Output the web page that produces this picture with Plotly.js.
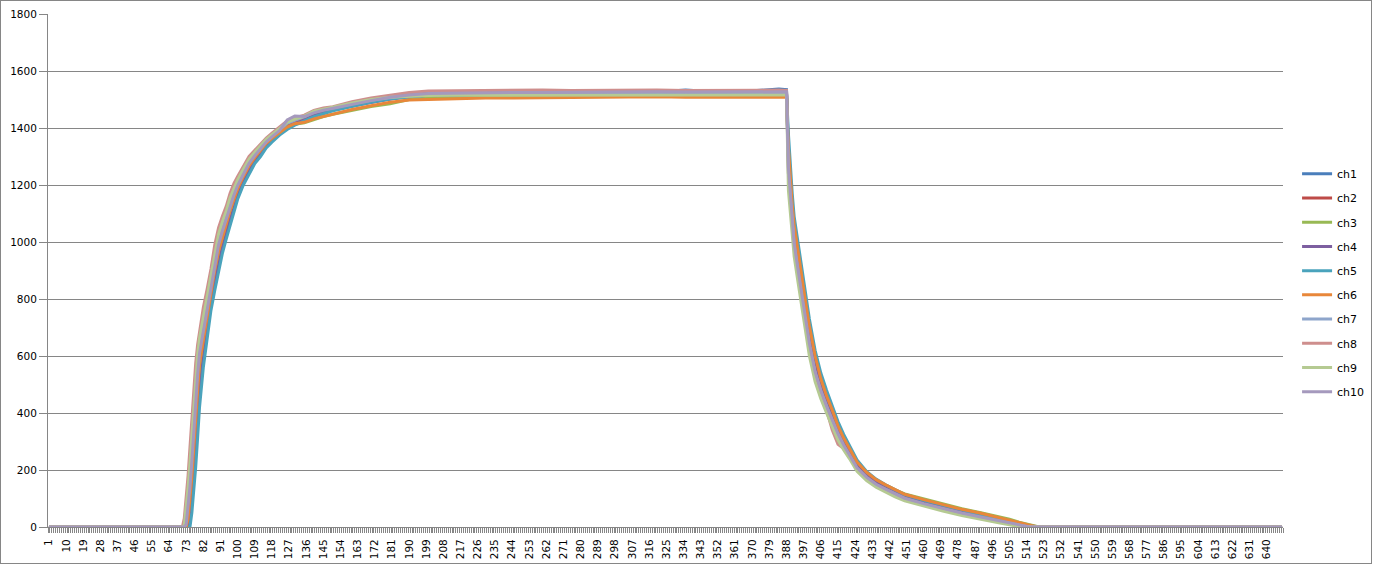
<!DOCTYPE html>
<html><head><meta charset="utf-8">
<script src="https://cdn.plot.ly/plotly-3.0.1.min.js"></script>
<style>
html,body{margin:0;padding:0;background:#fff;}
#wrap{position:relative;width:1373px;height:565px;}
#chart{width:1373px;height:565px;}
#frame{position:absolute;left:0;top:0;width:1372px;height:564px;border:1px solid #868686;box-sizing:border-box;pointer-events:none;}
</style>
</head><body>
<div id="wrap"><div id="chart"></div><div id="frame"></div></div>
<script>
// sample categories (x) shared by all series
const categoryX = [1,70,71,72,73,74,75,76,77,78,79,80,82,84,86,88,90,92,94,96,98,100,103,106,109,112,115,118,122,126,130,135,140,145,150,160,170,180,190,200,215,230,245,260,275,290,305,320,335,350,365,378,384,388,389,390,391,392,394,396,398,400,403,406,409,412,415,418,421,425,430,435,440,445,450,460,470,480,490,500,505,510,515,520,648];

const ch1 = [0,0,0, 0,0,0,46,118,203,305,413,509, 612,704,796,870,938,993,1039,1088,1126,1170, 1216,1255,1287,1311,1339,1358,1382,1402,1416,1430,1445,1455,1464, 1478,1492,1503,1512,1518, 1520,1522,1522,1523,1524,1524,1525,1526,1533,1527,1528,1535,1537,1535, 1320,1210,1110,1045,955,865,775,695,590,512,455,400,348,305,270,222,185,158,140,122,106,86,68,52,38,25,18,10,3,0,0];
const ch2 = [0,0,0, 0,0,53,127,214,317,424,518,597, 675,756,840,918,983,1032,1073,1121,1158,1194, 1236,1273,1301,1325,1349,1368,1390,1411,1424,1436,1452,1461,1468, 1484,1498,1510,1520,1525, 1527,1528,1529,1530,1530,1530,1531,1530,1531,1531,1530,1531,1531,1531, 1280,1180,1080,1010,920,830,740,660,560,490,435,385,335,295,262,215,182,158,141,123,108,89,71,55,41,27,20,12,4,0,0];
const ch3 = [0,0,0, 0,0,13,72,148,240,345,450,541, 633,721,811,886,953,1006,1050,1099,1137,1178, 1223,1261,1291,1316,1342,1361,1384,1402,1413,1418,1430,1440,1448, 1462,1475,1485,1500,1505, 1508,1510,1512,1513,1514,1514,1515,1515,1515,1516,1515,1516,1516,1516, 1300,1200,1105,1040,950,860,770,690,585,508,450,398,345,303,270,222,188,163,147,130,116,98,81,64,50,35,27,17,8,1,0];
const ch4 = [0,0,0, 0,0,0,24,90,168,266,374,476, 591,686,782,854,923,980,1027,1077,1116,1162, 1210,1249,1282,1307,1335,1355,1379,1399,1414,1428,1443,1453,1463, 1477,1490,1502,1510,1515, 1517,1518,1519,1520,1520,1521,1521,1522,1521,1522,1522,1522,1522,1522, 1300,1195,1095,1030,940,850,760,675,575,500,445,392,340,300,265,218,182,156,138,120,105,86,68,52,38,25,18,10,3,0,0];
const ch5 = [0,0,0, 0,0,0,0,51,124,210,313,420, 560,660,760,830,900,960,1010,1060,1100,1150, 1200,1240,1275,1300,1330,1350,1375,1395,1410,1425,1440,1450,1460, 1475,1490,1502,1510,1515, 1517,1518,1519,1519,1520,1520,1521,1521,1520,1521,1521,1521,1521,1521, 1380,1260,1170,1090,1000,910,820,730,620,540,480,425,370,325,285,235,195,168,148,130,114,94,76,60,44,30,22,13,5,0,0];
const ch6 = [0,0,0, 0,0,28,98,177,277,386,487,572, 654,739,825,902,968,1019,1062,1110,1147,1186, 1229,1267,1296,1320,1346,1364,1385,1403,1415,1420,1432,1440,1450, 1465,1478,1490,1498,1500, 1503,1505,1505,1506,1507,1508,1510,1510,1508,1508,1508,1508,1508,1508, 1330,1220,1130,1060,965,880,790,705,600,520,460,410,355,312,275,228,192,166,148,130,115,96,78,62,48,33,25,16,7,0,0];
const ch7 = [0,0,0, 0,25,92,171,269,378,479,566,633, 707,782,861,942,1005,1051,1091,1137,1174,1206, 1246,1282,1308,1332,1355,1372,1394,1416,1427,1439,1455,1464,1470, 1485,1497,1507,1515,1518, 1519,1520,1521,1521,1522,1522,1522,1523,1522,1523,1523,1523,1523,1523, 1240,1150,1055,990,900,805,715,635,540,475,420,372,323,283,250,200,168,145,128,111,96,77,60,44,30,18,11,4,0,0,0];
const ch8 = [0,0,0, 30,100,180,280,390,490,575,640,690, 770,835,905,990,1050,1090,1125,1170,1205,1230, 1265,1300,1322,1345,1365,1382,1402,1425,1435,1445,1462,1470,1475, 1492,1505,1515,1525,1530, 1531,1532,1531,1533,1532,1533,1532,1533,1532,1533,1532,1533,1533,1532, 1240,1150,1055,985,895,805,715,635,540,470,410,340,290,275,250,205,172,148,131,114,99,80,63,47,33,20,13,6,0,0,0];
const ch9 = [0,0,0, 6,61,136,224,329,434,528,604,662, 738,809,883,966,1028,1071,1108,1154,1189,1218, 1255,1291,1315,1338,1360,1377,1398,1420,1431,1442,1459,1467,1473, 1488,1500,1508,1512,1514, 1515,1515,1516,1515,1516,1516,1515,1516,1516,1516,1515,1516,1516,1516, 1180,1100,1010,950,860,770,680,600,510,450,400,352,305,270,240,195,163,140,123,106,92,73,56,40,26,14,8,1,0,0,0];
const ch10 = [0,0,0, 0,9,66,142,232,337,442,534,609, 686,765,847,926,990,1038,1079,1126,1163,1198, 1239,1276,1303,1327,1351,1369,1391,1428,1442,1440,1453,1462,1469, 1484,1496,1508,1516,1521, 1523,1524,1525,1525,1526,1526,1526,1527,1526,1527,1527,1527,1527,1527, 1260,1160,1065,995,905,815,725,645,545,480,425,375,328,288,255,208,175,150,133,116,101,82,65,49,35,22,15,8,1,0,0];

const seriesNames = ['ch1','ch2','ch3','ch4','ch5','ch6','ch7','ch8','ch9','ch10'];
const tickLabels = ['1','10','19','28','37','46','55','64','73','82','91','100','109','118','127','136','145','154','163','172','181','190','199','208','217','226','235','244','253','262','271','280','289','298','307','316','325','334','343','352','361','370','379','388','397','406','415','424','433','442','451','460','469','478','487','496','505','514','523','532','541','550','559','568','577','586','595','604','613','622','631','640'];

const seriesValues = [ch1,ch2,ch3,ch4,ch5,ch6,ch7,ch8,ch9,ch10];
const colors = ['#4A7EBB','#BE4B48','#98B954','#7D5FA0','#4AA3BC','#E8873A','#8EA5CB','#CE8E8D','#B5CA92','#A599BD'];

const traces = seriesValues.map((ys, i) => ({
  type: 'scatter', mode: 'lines',
  x: categoryX, y: ys, name: seriesNames[i],
  legendgroup: 'g' + i,
  line: {color: colors[i], width: 3}
}));

const layout = {
  width: 1373, height: 565,
  margin: {l: 48, r: 90, t: 14, b: 38, autoexpand: false},
  paper_bgcolor: '#fff', plot_bgcolor: '#fff',
  showlegend: true,
  font: {family: 'DejaVu Sans', color: '#000'},
  xaxis: {
    range: [0.5, 648.5], automargin: false,
    tickmode: 'array', tickvals: tickLabels.map(Number), ticktext: tickLabels,
    tickangle: -90, ticks: '', tickfont: {family: 'DejaVu Sans', size: 10.5, color: '#000'},
    ticklabelstandoff: 7,
    showline: true, linecolor: '#868686', linewidth: 1,
    showgrid: false, zeroline: false,
    minor: {tickmode: 'linear', tick0: 0.5, dtick: 1, ticks: 'outside', ticklen: 5, tickcolor: '#868686', tickwidth: 1, showgrid: false}
  },
  yaxis: {
    range: [0, 1800], tickmode: 'linear', tick0: 0, dtick: 200, automargin: false,
    ticks: 'outside', ticklen: 8, tickcolor: '#868686', tickwidth: 1,
    tickfont: {family: 'DejaVu Sans', size: 10.5, color: '#000'},
    showline: true, linecolor: '#868686', linewidth: 1,
    showgrid: true, gridcolor: '#868686', gridwidth: 1, zeroline: false
  },
  legend: {
    xref: 'container', yref: 'container',
    x: 0.9447, xanchor: 'left', y: 0.718, yanchor: 'top',
    font: {family: 'DejaVu Sans', size: 11, color: '#000'},
    bgcolor: 'rgba(0,0,0,0)', tracegroupgap: 5.2, traceorder: 'grouped'
  },
  hovermode: false
};

Plotly.newPlot('chart', traces, layout, {staticPlot: true, displayModeBar: false});
</script>
</body></html>
